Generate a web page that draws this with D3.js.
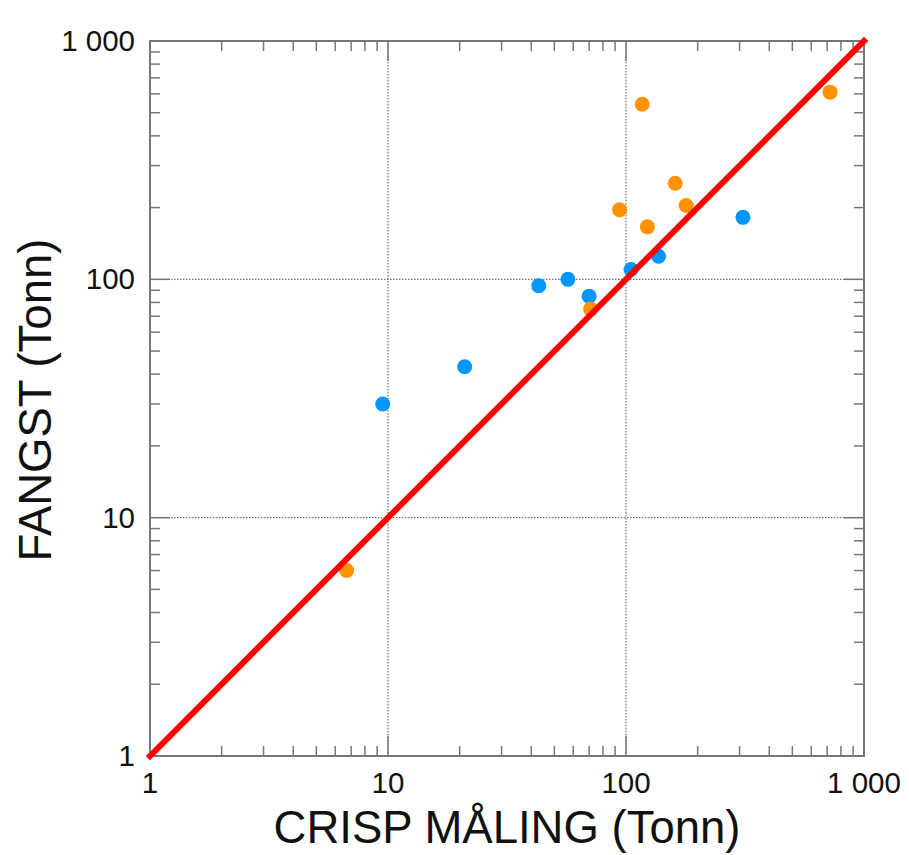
<!DOCTYPE html>
<html>
<head>
<meta charset="utf-8">
<script src="https://cdn.jsdelivr.net/npm/d3@7"></script>
<style>
  body { margin: 0; background: #fff; }
  text { font-family: "Liberation Sans", Arial, sans-serif; fill: #111; }
</style>
</head>
<body>
<div id="plot"></div>
<script>
// data (tonn)
var blueX = [9.5, 21, 43, 57, 70, 105, 137, 310];
var blueY = [30, 43, 94, 100, 85, 110, 125, 182];
var orangeX = [6.7, 71, 94, 117, 123, 161, 179, 720];
var orangeY = [6, 75, 196, 543, 166, 253, 204, 610];
var majorTicks = [1, 10, 100, 1000];
var tickLabels = ['1', '10', '100', '1 000'];
var lineEnds = [1, 1000];

var W = 909, H = 855;
var box = {l:150, r:864, t:41, b:756};

var svg = d3.select('#plot').append('svg')
  .attr('width', W)
  .attr('height', H);

var x = d3.scaleLog().domain([1, 1000]).range([box.l, box.r]);
var y = d3.scaleLog().domain([1, 1000]).range([box.b, box.t]);

// minor ticks 2..9 per decade
var minor = [];
[1, 10, 100].forEach(function(d){
  for (var k = 2; k < 10; k++) minor.push(d*k);
});

// dotted grid at 10 and 100
var grid = svg.append('g');
[10, 100].forEach(function(v){
  grid.append('line')
    .attr('x1', x(v)).attr('x2', x(v))
    .attr('y1', box.t).attr('y2', box.b)
    .attr('stroke', '#555').attr('stroke-width', 1)
    .attr('stroke-dasharray', '1.5,1.5');
  grid.append('line')
    .attr('y1', y(v)).attr('y2', y(v))
    .attr('x1', box.l).attr('x2', box.r)
    .attr('stroke', '#555').attr('stroke-width', 1)
    .attr('stroke-dasharray', '1.5,1.5');
});

// inward ticks on all four sides
var ticks = svg.append('g').attr('stroke', '#777').attr('stroke-width', 1.5);
function tickSet(vals, len){
  vals.forEach(function(v){
    ticks.append('line').attr('x1', x(v)).attr('x2', x(v)).attr('y1', box.b).attr('y2', box.b-len);
    ticks.append('line').attr('x1', x(v)).attr('x2', x(v)).attr('y1', box.t).attr('y2', box.t+len);
    ticks.append('line').attr('y1', y(v)).attr('y2', y(v)).attr('x1', box.l).attr('x2', box.l+len);
    ticks.append('line').attr('y1', y(v)).attr('y2', y(v)).attr('x1', box.r).attr('x2', box.r-len);
  });
}
tickSet(minor, 10);
tickSet([10, 100], 20);

// frame
svg.append('rect')
  .attr('x', box.l).attr('y', box.t)
  .attr('width', box.r-box.l).attr('height', box.b-box.t)
  .attr('fill', 'none').attr('stroke', '#777').attr('stroke-width', 2);

// tick labels
majorTicks.forEach(function(v, i){
  svg.append('text')
    .attr('x', x(v)).attr('y', 793)
    .attr('text-anchor', 'middle')
    .attr('font-size', 29.5)
    .text(tickLabels[i]);
  svg.append('text')
    .attr('x', 135).attr('y', y(v))
    .attr('dy', '0.34em')
    .attr('text-anchor', 'end')
    .attr('font-size', 29.5)
    .text(tickLabels[i]);
});

// points
function dots(xs, ys, col){
  svg.append('g').selectAll('circle')
    .data(xs)
    .enter().append('circle')
    .attr('cx', function(d){ return x(d); })
    .attr('cy', function(d, i){ return y(ys[i]); })
    .attr('r', 7.5)
    .attr('fill', col);
}
dots(blueX, blueY, '#0096ff');
dots(orangeX, orangeY, '#ff9200');

// 1:1 line
svg.append('line')
  .attr('x1', x(lineEnds[0])).attr('y1', y(lineEnds[0]))
  .attr('x2', x(lineEnds[1])).attr('y2', y(lineEnds[1]))
  .attr('stroke', '#ff0000').attr('stroke-width', 6)
  .attr('stroke-linecap', 'square');

// axis titles
svg.append('text')
  .attr('x', 507).attr('y', 843)
  .attr('text-anchor', 'middle')
  .attr('font-size', 45.5)
  .text('CRISP MÅLING (Tonn)');

svg.append('text')
  .attr('transform', 'translate(51,400) rotate(-90)')
  .attr('text-anchor', 'middle')
  .attr('font-size', 45.5)
  .text('FANGST (Tonn)');
</script>
</body>
</html>
